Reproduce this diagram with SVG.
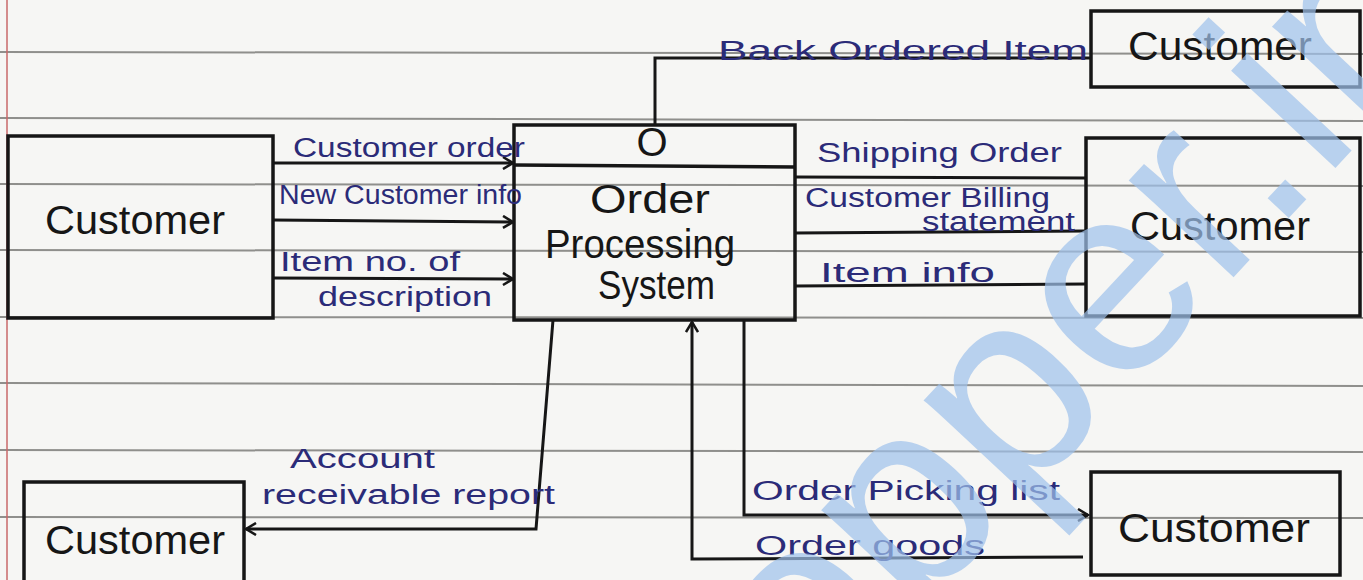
<svg xmlns="http://www.w3.org/2000/svg" width="1363" height="580" viewBox="0 0 1363 580">
<defs>
<style>
.paper{fill:#f6f6f4}
.rule{stroke:#8f8f8c;stroke-width:2;fill:none}
.box{fill:none;stroke:#161616;stroke-width:3.5}
.flow{fill:none;stroke:#161616;stroke-width:3}
.node{font-family:"Liberation Sans",Arial,sans-serif;font-size:40px;fill:#161616}
.lbl{font-family:"Liberation Sans",Arial,sans-serif;font-size:27px;fill:#2b2b78}
.wm{font-family:"Liberation Sans",Arial,sans-serif;font-size:270px;fill:#9fc2ec;opacity:0.7}
</style>
<marker id="arr" markerWidth="14" markerHeight="14" refX="12" refY="7" orient="auto" markerUnits="userSpaceOnUse">
<path d="M2,1 L12,7 L2,13" fill="none" stroke="#161616" stroke-width="2.5"/>
</marker>
</defs>
<rect class="paper" x="0" y="0" width="1363" height="580"/>
<g id="paper-lines">
<path class="rule" d="M0,52 L1363,54 M0,118 L1363,121 M0,184 L1363,186 M0,250 L1363,252 M0,317 L1363,318 M0,383 L1363,386 M0,450 L1363,452 M0,517 L1363,518"/>
<line x1="7" y1="0" x2="7" y2="580" stroke="#c8686a" stroke-width="1.5"/>
</g>
<g id="connectors">
<line class="flow" x1="273" y1="163" x2="513" y2="163" marker-end="url(#arr)"/>
<line class="flow" x1="273" y1="220" x2="513" y2="222" marker-end="url(#arr)"/>
<line class="flow" x1="273" y1="278" x2="513" y2="279" marker-end="url(#arr)"/>
<line class="flow" x1="795" y1="177" x2="1086" y2="178"/>
<line class="flow" x1="795" y1="233" x2="1086" y2="231"/>
<line class="flow" x1="795" y1="286" x2="1086" y2="284"/>
<polyline class="flow" points="655,125 655,58 1091,58"/>
<polyline class="flow" points="553,320 536,529 246,529" marker-end="url(#arr)"/>
<polyline class="flow" points="744,320 744,515 1088,515" marker-end="url(#arr)"/>
<polyline class="flow" points="1083,557 692,559 692,322" marker-end="url(#arr)"/>
</g>
<g id="customer-left">
<rect class="box" x="8" y="136" width="265" height="182"/>
<text class="node" x="45" y="234" textLength="180" lengthAdjust="spacingAndGlyphs">Customer</text>
</g>
<g id="process">
<rect class="box" x="514" y="125" width="281" height="195"/>
<line class="box" x1="514" y1="165" x2="795" y2="167"/>
<text class="node" x="652" y="156" text-anchor="middle" font-size="30">O</text>
<text class="node" x="590" y="213" textLength="120" lengthAdjust="spacingAndGlyphs" font-size="36">Order</text>
<text class="node" x="545" y="258" textLength="190" lengthAdjust="spacingAndGlyphs" font-size="36">Processing</text>
<text class="node" x="598" y="299" textLength="117" lengthAdjust="spacingAndGlyphs" font-size="36">System</text>
</g>
<g id="customer-top">
<rect class="box" x="1091" y="11" width="269" height="76"/>
<text class="node" x="1128" y="60" textLength="184" lengthAdjust="spacingAndGlyphs">Customer</text>
</g>
<g id="customer-right">
<rect class="box" x="1086" y="138" width="274" height="178"/>
<text class="node" x="1130" y="240" textLength="180" lengthAdjust="spacingAndGlyphs">Customer</text>
</g>
<g id="customer-bottom-left">
<rect class="box" x="24" y="482" width="220" height="110"/>
<text class="node" x="45" y="554" textLength="180" lengthAdjust="spacingAndGlyphs">Customer</text>
</g>
<g id="customer-bottom-right">
<rect class="box" x="1091" y="472" width="249" height="103"/>
<text class="node" x="1118" y="542" textLength="192" lengthAdjust="spacingAndGlyphs">Customer</text>
</g>
<g id="labels">
<text class="lbl" x="293" y="157" textLength="232" lengthAdjust="spacingAndGlyphs">Customer order</text>
<text class="lbl" x="279" y="204" textLength="243" lengthAdjust="spacingAndGlyphs">New Customer info</text>
<text class="lbl" x="280" y="271" textLength="180" lengthAdjust="spacingAndGlyphs">Item no. of</text>
<text class="lbl" x="318" y="306" textLength="174" lengthAdjust="spacingAndGlyphs">description</text>
<text class="lbl" x="718" y="60" textLength="370" lengthAdjust="spacingAndGlyphs" font-size="32">Back Ordered Item</text>
<text class="lbl" x="817" y="162" textLength="245" lengthAdjust="spacingAndGlyphs" font-size="28">Shipping Order</text>
<text class="lbl" x="805" y="207" textLength="245" lengthAdjust="spacingAndGlyphs" font-size="26">Customer Billing</text>
<text class="lbl" x="922" y="231" textLength="153" lengthAdjust="spacingAndGlyphs" font-size="18">statement</text>
<text class="lbl" x="820" y="282" textLength="175" lengthAdjust="spacingAndGlyphs">Item info</text>
<text class="lbl" x="290" y="468" textLength="145" lengthAdjust="spacingAndGlyphs" font-size="28">Account</text>
<text class="lbl" x="262" y="504" textLength="293" lengthAdjust="spacingAndGlyphs" font-size="28">receivable report</text>
<text class="lbl" x="752" y="500" textLength="308" lengthAdjust="spacingAndGlyphs" font-size="28">Order Picking list</text>
<text class="lbl" x="755" y="555" textLength="230" lengthAdjust="spacingAndGlyphs" font-size="28">Order goods</text>
</g>
<text class="wm" x="0" y="0" transform="translate(760,785) rotate(-47)">topper.in</text>
</svg>
